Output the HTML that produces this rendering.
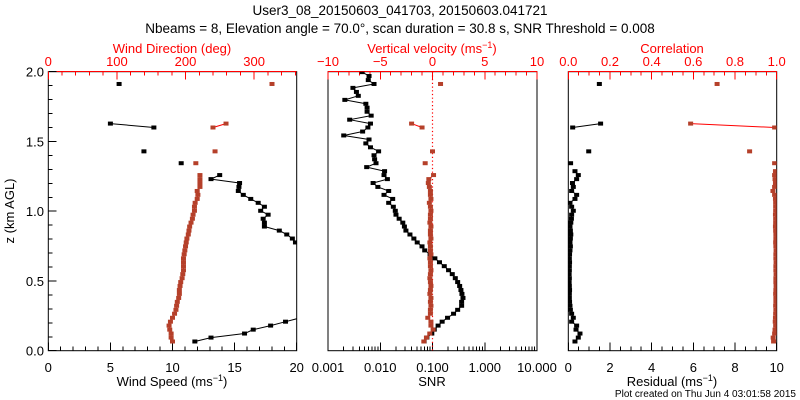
<!DOCTYPE html>
<html><head><meta charset="utf-8">
<style>
html,body{margin:0;padding:0;background:#fff;}
svg{display:block;font-family:"Liberation Sans",sans-serif;}
</style></head>
<body>
<svg id="chart" width="800" height="400" viewBox="0 0 800 400" xmlns="http://www.w3.org/2000/svg">
<rect width="800" height="400" fill="#fff"/>
<text x="400" y="15" font-size="13.5" text-anchor="middle">User3_08_20150603_041703, 20150603.041721</text>
<text x="400" y="33" font-size="13.5" text-anchor="middle">Nbeams = 8, Elevation angle = 70.0°, scan duration = 30.8 s, SNR Threshold = 0.008</text>
<text transform="translate(14,211) rotate(-90)" font-size="13" text-anchor="middle">z (km AGL)</text>
<text x="172" y="53" font-size="13" fill="#f00" text-anchor="middle">Wind Direction (deg)</text>
<text x="432" y="53" font-size="13" fill="#f00" text-anchor="middle">Vertical velocity (ms<tspan dy="-5" font-size="9">−1</tspan><tspan dy="5">)</tspan></text>
<text x="672" y="53" font-size="13" fill="#f00" text-anchor="middle">Correlation</text>
<text x="172" y="386" font-size="13" text-anchor="middle">Wind Speed (ms<tspan dy="-5" font-size="9">−1</tspan><tspan dy="5">)</tspan></text>
<text x="432" y="386" font-size="13" text-anchor="middle">SNR</text>
<text x="672" y="386" font-size="13" text-anchor="middle">Residual (ms<tspan dy="-5" font-size="9">−1</tspan><tspan dy="5">)</tspan></text>
<text x="796" y="397" font-size="10" text-anchor="end">Plot created on Thu Jun  4 03:01:58 2015</text>
<defs>
<clipPath id="c1"><rect x="48.3" y="71.7" width="248.4" height="279"/></clipPath>
<clipPath id="c2"><rect x="328" y="71.7" width="209" height="279"/></clipPath>
<clipPath id="c3"><rect x="568.3" y="71.7" width="208.4" height="279"/></clipPath>
</defs>
<g id="layer"></g>
</svg>
<script>
const heights=[0.066,0.094,0.123,0.151,0.180,0.208,0.236,0.265,0.293,0.322,0.350,0.378,0.407,0.435,0.464,0.492,0.520,0.549,0.577,0.606,0.634,0.662,0.691,0.719,0.748,0.776,0.804,0.833,0.861,0.890,0.918,0.946,0.975,1.003,1.032,1.060,1.088,1.117,1.145,1.174,1.202,1.230,1.259,1.287,1.316,1.344,1.372,1.401,1.429,1.458,1.486,1.514,1.543,1.571,1.600,1.628,1.656,1.685,1.713,1.742,1.770,1.798,1.827,1.855,1.884,1.912,1.940,1.969,1.997];
const windSpeed=[11.8,13.1,15.8,16.5,17.9,19.1,20.3,21.5,22,22.5,23,23,22.5,22,22,21.5,21.5,21,21,21,21,20.8,20.5,20.3,20.2,19.9,19.65,19.2,18.6,17.4,17.4,17.3,17.7,17.1,17.4,16.9,16.3,15.7,15.3,15.35,15.4,13.1,13.8,null,null,10.7,null,null,7.7,null,null,null,null,null,8.5,5.0,null,null,null,null,null,null,null,null,null,5.7,null,null,null];
const windDir=[181,179,179,177,176,178,181,184,186,187,188,190,191,191,192,193,195,196,197,197,197,197,198,199,200,201,202,204,205,206,208,210,211,213,213,214,217,218,217,221,221,221,221,null,null,215,null,null,243,null,null,null,null,null,240,259,null,null,null,null,null,null,null,null,null,326,null,null,null];
const snr=[0.069,0.078,0.097,0.108,0.128,0.153,0.194,0.253,0.303,0.361,0.361,0.383,0.366,0.350,0.331,0.303,0.273,0.239,0.203,0.168,0.136,0.111,0.090,0.071,0.063,0.051,0.044,0.037,0.031,0.029,0.027,0.023,0.020,0.0194,0.0178,0.0145,0.0173,0.0118,0.0145,0.0090,0.0073,0.0137,0.0118,0.0121,0.0055,0.0083,0.0078,0.0076,0.0093,0.0065,0.0053,0.0061,0.0020,0.0046,0.0058,0.0065,0.0026,0.0067,0.0056,0.0056,0.0053,0.0021,0.0038,0.0035,0.0030,0.0076,0.0059,0.0061,0.0045];
const vertVel=[-0.83,-0.58,-0.26,0.06,-0.15,-0.15,-0.45,-0.2,-0.2,-0.15,-0.2,-0.15,-0.25,-0.2,-0.15,-0.2,-0.25,-0.2,-0.15,-0.2,-0.2,-0.25,-0.15,-0.2,-0.2,-0.25,-0.15,-0.2,-0.2,-0.15,-0.25,-0.2,-0.2,-0.15,-0.2,-0.3,-0.15,-0.2,-0.2,-0.3,-0.4,-0.35,0.1,null,null,-0.7,null,null,0.0,null,null,null,null,null,-1.0,-2.0,null,null,null,null,null,null,null,null,null,0.77,null,null,null];
const residual=[0.32,0.48,0.56,0.37,0.4,0.16,0.24,0.16,0.1,0.08,0.06,0.05,0.05,0.06,0.05,0.04,0.05,0.04,0.05,0.05,0.06,0.05,0.06,0.08,0.1,0.08,0.1,0.12,0.1,0.08,0.12,0.15,0.16,0.24,0.16,0.08,0.32,0.4,0.16,0.24,0.2,0.4,0.48,0.32,null,0.11,null,null,0.98,null,null,null,null,null,0.21,1.55,null,null,null,null,null,null,null,null,null,1.49,null,null,null];
const correlation=[0.985,0.983,0.99,0.992,0.995,0.993,0.994,0.995,0.996,0.995,0.996,0.996,0.995,0.996,0.997,0.996,0.996,0.997,0.996,0.996,0.997,0.996,0.996,0.997,0.996,0.995,0.996,0.996,0.995,0.994,0.995,0.995,0.994,0.995,0.995,0.995,0.994,0.99,0.982,0.99,0.994,0.992,0.99,0.994,null,0.99,null,null,0.87,null,null,null,null,null,0.99,0.587,null,null,null,null,null,null,null,null,null,0.714,null,null,null];
const speedTicks=[0,5,10,15,20];
const dirTicks=[0,100,200,300];
const snrTicks=["0.001","0.010","0.100","1.000","10.000"];
const velTicks=[-10,-5,0,5,10];
const resTicks=[0,2,4,6,8,10];
const corrTicks=["0.0","0.2","0.4","0.6","0.8","1.0"];
const zTicks=["0.0","0.5","1.0","1.5","2.0"];

const NS="http://www.w3.org/2000/svg";
const layer=document.getElementById('layer');
const YT=71.7,YB=350.7;
const P1={x0:48.3,x1:296.7},P2={x0:328,x1:537},P3={x0:568.3,x1:776.7};
const yOf=z=>YB-(z/2)*(YB-YT);
const lin=(p,a,b)=>v=>p.x0+(v-a)/(b-a)*(p.x1-p.x0);
const xSpeed=lin(P1,0,20), xDir=lin(P1,0,362);
const xSnr=v=>P2.x0+(Math.log10(v)+3)/4*(P2.x1-P2.x0);
const xVel=lin(P2,-10,10);
const xRes=lin(P3,0,10), xCorr=lin(P3,0,1);
function mk(tag,attrs,parent){const e=document.createElementNS(NS,tag);for(const k in attrs)e.setAttribute(k,attrs[k]);(parent||layer).appendChild(e);return e;}
function line(x1,y1,x2,y2,c,g){return mk('line',{x1,y1,x2,y2,stroke:c,'stroke-width':1,'shape-rendering':'crispEdges'},g);}

// frames
[[P1,'panel-wind'],[P2,'panel-snr'],[P3,'panel-residual']].forEach(([p,n])=>{
  const r=mk('rect',{x:p.x0,y:YT,width:p.x1-p.x0,height:YB-YT,fill:'none',stroke:'#000','stroke-width':1});
  
  
  line(p.x0,YT,p.x1,YT,'#f00');
});
// left z ticks
for(let k=0;k<=20;k++){const y=yOf(k/10);line(P1.x0,y,P1.x0+(k%5==0?8:4),y,'#000');}
zTicks.forEach(t=>{const tx=mk('text',{x:44,y:yOf(+t)+5,'font-size':13,'text-anchor':'end'});tx.textContent=t;
  
  });
function lbl(x,y,t,c,n){const tx=mk('text',{x,y,'font-size':13,'text-anchor':'middle',fill:c});tx.textContent=t;
  
  }
// panel1 ticks
for(let v=0;v<=20;v++)line(xSpeed(v),YB,xSpeed(v),YB-(v%5==0?8:4),'#000');
speedTicks.forEach(v=>lbl(xSpeed(v),372,String(v),'#000','speed-tick-label'));
for(let v=0;v<=360;v+=20)line(xDir(v),YT,xDir(v),YT+(v%100==0?8:4),'#f00');
dirTicks.forEach(v=>lbl(xDir(v),66,String(v),'#f00','direction-tick-label'));
// panel2 ticks
for(let d=-3;d<1;d++)for(let m=1;m<=9;m++){const x=xSnr(m*Math.pow(10,d));line(x,YB,x,YB-(m==1?8:4),'#000');}
line(P2.x1,YB,P2.x1,YB-8,'#000');
snrTicks.forEach(t=>lbl(xSnr(+t),372,t,'#000','snr-tick-label'));
for(let v=-10;v<=10;v++)line(xVel(v),YT,xVel(v),YT+(v%5==0?8:4),'#f00');
velTicks.forEach(v=>lbl(xVel(v),66,v<0?'−'+Math.abs(v):String(v),'#f00','velocity-tick-label'));
mk('line',{x1:xVel(0),y1:YT,x2:xVel(0),y2:YB,stroke:'#f00','stroke-width':1.2,'stroke-dasharray':'1.2,2.5'});
// panel3 ticks
for(let v=0;v<=10;v+=0.5)line(xRes(v),YB,xRes(v),YB-(Math.abs(v%2)<1e-9?8:4),'#000');
resTicks.forEach(v=>lbl(xRes(v),372,String(v),'#000','residual-tick-label'));
for(let v=0;v<=1.0001;v+=0.05)line(xCorr(v),YT,xCorr(v),YT+(Math.round(v*100)%20==0?8:4),'#f00');
corrTicks.forEach(t=>lbl(xCorr(+t),66,t,'#f00','correlation-tick-label'));

// series
function series(vals,xf,lineCol,markCol,clip,name){
  const g=mk('g',{'clip-path':'url(#'+clip+')'});
  
  
  for(let i=0;i<vals.length-1;i++){
    if(vals[i]!=null&&vals[i+1]!=null)mk('line',{x1:xf(vals[i]),y1:yOf(heights[i]),x2:xf(vals[i+1]),y2:yOf(heights[i+1]),stroke:lineCol,'stroke-width':1},g);
  }
  vals.forEach((v,i)=>{if(v==null)return;
    const r=mk('rect',{x:xf(v)-2.5,y:yOf(heights[i])-2,width:5,height:4,fill:markCol},g);
    
    
  });
}
const RED='#b5402a';
series(windSpeed,xSpeed,'#000','#000','c1','wind-speed-series');
series(windDir,xDir,'#f00',RED,'c1','wind-direction-series');
series(snr,xSnr,'#000','#000','c2','snr-series');
series(vertVel,xVel,'#f00',RED,'c2','vertical-velocity-series');
series(residual,xRes,'#000','#000','c3','residual-series');
series(correlation,xCorr,'#f00',RED,'c3','correlation-series');
</script>
</body></html>
